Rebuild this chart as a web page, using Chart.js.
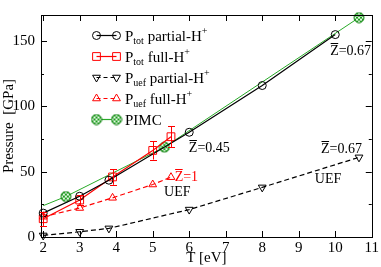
<!DOCTYPE html>
<html><head><meta charset="utf-8">
<script src="https://cdn.jsdelivr.net/npm/chart.js@4/dist/chart.umd.min.js"></script>
<style>html,body{margin:0;padding:0;background:#fff}#wrap{width:381px;height:267px;position:relative}</style>
</head><body><div id="wrap"><canvas id="c" width="381" height="267"></canvas></div>
<script>
// ---- data ----
const totPartialT = [2, 3, 3.8, 6, 8, 10];
const totPartialP = [18.3, 31.2, 43.5, 80.2, 116, 155];
const totFullT = [2, 3, 3.9, 5, 5.5];
const totFullP = [14, 28.3, 46, 66.3, 76.8];
const totFullErr = [5.5, 3.5, 6, 7, 8];
const uefPartialT = [2, 3, 3.8, 6, 8, 10.65];
const uefPartialP = [1.2, 4, 6.6, 21, 38, 61];
const uefFullT = [2, 3, 3.9, 5, 5.5];
const uefFullP = [15.5, 22.2, 30, 40.2, 45.8];
const pimcT = [2, 2.62, 5.32, 10.65];
const pimcP = [24, 31, 68.8, 168];
const xTicks = [2, 3, 4, 5, 6, 7, 8, 9, 10, 11];
const yTicks = [0, 50, 100, 150];
const yMinorTicks = [25, 75, 125];
const legendLabels = [
  [['P',0],['tot',1],[' partial-H',0],['+',2]],
  [['P',0],['tot',1],[' full-H',0],['+',2]],
  [['P',0],['uef',1],[' partial-H',0],['+',2]],
  [['P',0],['uef',1],[' full-H',0],['+',2]],
  [['PIMC',0]]
];
const annotations = [
  {T: 9.86, P: 143.2, z: true, text: '=0.67', color: '#000'},
  {T: 5.99, P: 69.2, z: true, text: '=0.45', color: '#000'},
  {T: 5.6, P: 46.5, z: true, text: '=1', color: '#ff0000'},
  {T: 5.31, P: 35.2, z: false, text: 'UEF', color: '#000'},
  {T: 9.44, P: 45, z: false, text: 'UEF', color: '#000'},
  {T: 9.61, P: 68.1, z: true, text: '=0.67', color: '#000'}
];

const FONT = 'Liberation Serif';
const GREEN = 'rgb(40,170,40)';
const RED = '#ff0000';

function pimcMarker(){
  const c = document.createElement('canvas'); c.width = 12; c.height = 12;
  const g = c.getContext('2d');
  g.beginPath(); g.arc(6,6,5,0,2*Math.PI); g.fillStyle = 'rgb(30,160,30)'; g.fill();
  g.save(); g.clip();
  g.strokeStyle = 'rgba(255,255,255,0.9)'; g.lineWidth = 1;
  for (let k = -12; k <= 12; k += 4) {
    g.beginPath(); g.moveTo(k,0); g.lineTo(k+12,12); g.stroke();
    g.beginPath(); g.moveTo(k+12,0); g.lineTo(k,12); g.stroke();
  }
  g.restore();
  g.beginPath(); g.arc(6,6,5,0,2*Math.PI); g.strokeStyle = 'rgb(20,130,20)'; g.lineWidth = 1; g.stroke();
  return c;
}
const PIMC_IMG = pimcMarker();

const pts = (xs, ys) => xs.map((x, i) => ({x: x, y: ys[i]}));

const datasets = [
  {data: pts(pimcT, pimcP), showLine: true, borderColor: GREEN, borderWidth: 1, pointStyle: PIMC_IMG,
   pointRadius: pimcT.map((t,i)=> i===0 ? 0 : 5), clip: false, order: 5},
  {data: pts(uefPartialT, uefPartialP), showLine: true, borderColor: '#000', borderWidth: 1.2, borderDash: [5,3],
   pointStyle: 'triangle', pointRotation: 180, pointRadius: 4.5, pointBorderColor: '#000', pointBackgroundColor: 'rgba(0,0,0,0)', pointBorderWidth: 1, clip: false, order: 4},
  {data: pts(uefFullT, uefFullP), showLine: true, borderColor: RED, borderWidth: 1.2, borderDash: [5,3],
   pointStyle: 'triangle', pointRadius: 4.5, pointBorderColor: RED, pointBackgroundColor: 'rgba(0,0,0,0)', pointBorderWidth: 1, clip: false, order: 3},
  {data: pts(totFullT, totFullP), showLine: true, borderColor: RED, borderWidth: 1.2,
   pointStyle: 'rect', pointRadius: 5.5, pointBorderColor: RED, pointBackgroundColor: 'rgba(0,0,0,0)', pointBorderWidth: 1, clip: false, order: 2},
  {data: pts(totPartialT, totPartialP), showLine: true, borderColor: '#000', borderWidth: 1.2,
   pointStyle: 'circle', pointRadius: 4, pointBorderColor: '#000', pointBackgroundColor: 'rgba(0,0,0,0)', pointBorderWidth: 1, clip: false, order: 1}
];

const legendStyles = [
  {color: '#000', dash: [], pointStyle: 'circle', radius: 4, rotation: 0},
  {color: RED, dash: [], pointStyle: 'rect', radius: 5.5, rotation: 0},
  {color: '#000', dash: [4,3], pointStyle: 'triangle', radius: 4.5, rotation: 180},
  {color: RED, dash: [4,3], pointStyle: 'triangle', radius: 4.5, rotation: 0},
  {color: GREEN, dash: [], pointStyle: PIMC_IMG, radius: 5, rotation: 0}
];

const framePlugin = {
  id: 'frame',
  afterDatasetsDraw(chart) {
    const {ctx, chartArea: a, scales: {x, y}} = chart;
    ctx.save();
    ctx.strokeStyle = '#000'; ctx.lineWidth = 1; ctx.setLineDash([]);
    ctx.strokeRect(Math.round(a.left)+0.5, Math.round(a.top)+0.5, Math.round(a.right-a.left), Math.round(a.bottom-a.top));
    ctx.beginPath();
    xTicks.forEach(v => {
      const px = Math.round(x.getPixelForValue(v)) + 0.5;
      ctx.moveTo(px, a.bottom); ctx.lineTo(px, a.bottom - 6);
      ctx.moveTo(px, a.top); ctx.lineTo(px, a.top + 6);
    });
    yTicks.forEach(v => {
      const py = Math.round(y.getPixelForValue(v)) + 0.5;
      ctx.moveTo(a.left, py); ctx.lineTo(a.left + 6, py);
      ctx.moveTo(a.right, py); ctx.lineTo(a.right - 6, py);
    });
    yMinorTicks.forEach(v => {
      const py = Math.round(y.getPixelForValue(v)) + 0.5;
      ctx.moveTo(a.left, py); ctx.lineTo(a.left + 3, py);
      ctx.moveTo(a.right, py); ctx.lineTo(a.right - 3, py);
    });
    ctx.stroke();
    ctx.restore();
  }
};

const errorPlugin = {
  id: 'errbars',
  afterDatasetsDraw(chart) {
    const {ctx, scales: {x, y}} = chart;
    ctx.save();
    ctx.strokeStyle = RED; ctx.lineWidth = 1; ctx.setLineDash([]);
    ctx.beginPath();
    totFullT.forEach((t, i) => {
      const px = Math.round(x.getPixelForValue(t)) + 0.5;
      const y1 = y.getPixelForValue(totFullP[i] + totFullErr[i]);
      const y2 = y.getPixelForValue(totFullP[i] - totFullErr[i]);
      ctx.moveTo(px, y1); ctx.lineTo(px, y2);
      ctx.moveTo(px - 3.5, Math.round(y1)+0.5); ctx.lineTo(px + 3.5, Math.round(y1)+0.5);
      ctx.moveTo(px - 3.5, Math.round(y2)+0.5); ctx.lineTo(px + 3.5, Math.round(y2)+0.5);
    });
    ctx.stroke();
    ctx.restore();
  }
};

function drawRich(ctx, parts, x, y, color) {
  ctx.fillStyle = color;
  ctx.textBaseline = 'alphabetic';
  let cx = x;
  parts.forEach(([t, kind]) => {
    let size = 15, dy = 0;
    if (kind === 1) { size = 10; dy = 3; }
    if (kind === 2) { size = 10; dy = -7; }
    ctx.font = size + 'px "' + FONT + '"';
    ctx.fillText(t, cx, y + dy);
    cx += ctx.measureText(t).width;
  });
}

const legendPlugin = {
  id: 'customLegend',
  afterDraw(chart) {
    const {ctx, chartArea: a} = chart;
    const x1 = a.left + 55.5, x2 = a.left + 75.5, tx = a.left + 84;
    ctx.save();
    legendStyles.forEach((s, i) => {
      const cy = a.top + 20.5 + i * 21;
      ctx.strokeStyle = s.color; ctx.lineWidth = 1.2; ctx.setLineDash(s.dash);
      ctx.beginPath(); ctx.moveTo(x1, cy); ctx.lineTo(x2, cy); ctx.stroke();
      ctx.setLineDash([]);
      ctx.fillStyle = 'rgba(0,0,0,0)';
      ctx.lineWidth = 1;
      [x1, x2].forEach(px => {
        Chart.helpers.drawPoint(ctx, {pointStyle: s.pointStyle, radius: s.radius, rotation: s.rotation, borderWidth: 1}, px, cy);
      });
      drawRich(ctx, legendLabels[i], tx, cy + 5, '#000');
    });
    ctx.restore();
  }
};

const annotPlugin = {
  id: 'annots',
  afterDraw(chart) {
    const {ctx, scales: {x, y}} = chart;
    ctx.save();
    ctx.font = '14px "' + FONT + '"';
    ctx.textBaseline = 'alphabetic';
    annotations.forEach(an => {
      const px = x.getPixelForValue(an.T);
      const py = y.getPixelForValue(an.P) + 5;
      ctx.fillStyle = an.color; ctx.strokeStyle = an.color;
      let cx = px;
      if (an.z) {
        ctx.fillText('Z', cx, py);
        const w = ctx.measureText('Z').width;
        ctx.lineWidth = 1;
        ctx.beginPath(); ctx.moveTo(cx + 0.5, Math.round(py - 12) + 0.5); ctx.lineTo(cx + w - 0.5, Math.round(py - 12) + 0.5); ctx.stroke();
        cx += w;
      }
      ctx.fillText(an.text, cx, py);
    });
    ctx.restore();
  }
};

new Chart(document.getElementById('c'), {
  type: 'scatter',
  data: {datasets: datasets},
  options: {
    animation: false, responsive: false, devicePixelRatio: 1,
    layout: {padding: {top: 3, right: 7, left: 0, bottom: 0}},
    plugins: {legend: {display: false}, tooltip: {enabled: false}},
    scales: {
      x: {
        type: 'linear', min: 1.94, max: 11,
        afterBuildTicks: s => { s.ticks = xTicks.map(v => ({value: v})); },
        afterFit: s => { s.height = 30; },
        grid: {display: false, drawTicks: false}, border: {display: false},
        ticks: {padding: 2, color: '#000', font: {family: FONT, size: 15}, maxRotation: 0, autoSkip: false},
        title: {display: true, text: 'T [eV]', color: '#000', font: {family: FONT, size: 15}, padding: 0}
      },
      y: {
        type: 'linear', min: 0, max: 170,
        afterBuildTicks: s => { s.ticks = yTicks.map(v => ({value: v})); },
        afterFit: s => { s.width = 41; },
        grid: {display: false, drawTicks: false}, border: {display: false},
        ticks: {padding: 6, color: '#000', font: {family: FONT, size: 15}, autoSkip: false},
        title: {display: true, text: 'Pressure  [GPa]', color: '#000', font: {family: FONT, size: 15}, padding: 0}
      }
    }
  },
  plugins: [framePlugin, errorPlugin, legendPlugin, annotPlugin]
});
</script>
</body></html>
